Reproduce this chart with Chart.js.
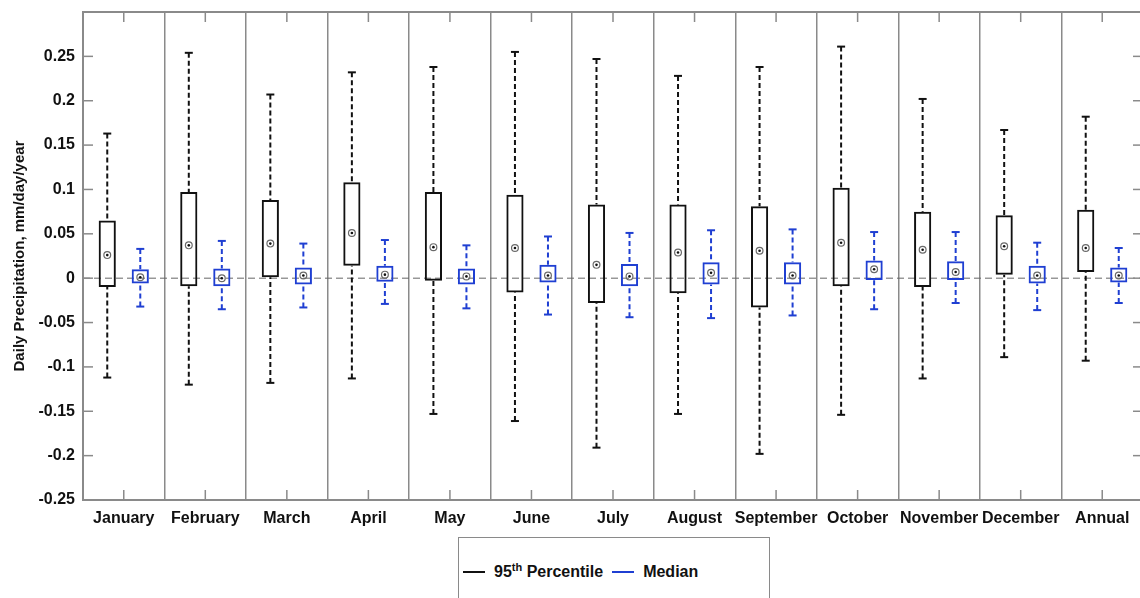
<!DOCTYPE html>
<html>
<head>
<meta charset="utf-8">
<script src="https://cdn.jsdelivr.net/npm/chart.js@4.4.1/dist/chart.umd.min.js"></script>
<style>
  html, body { margin: 0; padding: 0; background: #fff; overflow: hidden; }
  #wrap { position: relative; width: 1144px; height: 598px; }
  #legend {
    position: absolute; left: 458px; top: 537px; width: 312px; height: 80px;
    box-sizing: border-box; border: 1px solid #8a8a8a; background: #fff;
    font: bold 16px "Liberation Sans", Arial, sans-serif; color: #111;
    display: flex; align-items: flex-start; padding: 25px 0 0 4px;
  }
  .item { display: flex; align-items: center; margin-right: 9px; }
  .swatch { width: 22px; height: 2px; margin-right: 9px; }
  sup { font-size: 11px; line-height: 0; }
</style>
</head>
<body>
<div id="wrap">
  <canvas id="chart" width="1144" height="598"></canvas>
  <div id="legend"></div>
</div>
<script>
const months = ['January', 'February', 'March', 'April', 'May', 'June', 'July',
  'August', 'September', 'October', 'November', 'December', 'Annual'];

// 95th percentile trends
const p95High = [0.163, 0.254, 0.207, 0.232, 0.238, 0.255, 0.247, 0.228, 0.238, 0.261, 0.202, 0.167, 0.182];
const p95Q3   = [0.065, 0.097, 0.088, 0.108, 0.097, 0.094, 0.083, 0.083, 0.081, 0.102, 0.075, 0.071, 0.077];
const p95Med  = [0.026, 0.037, 0.039, 0.051, 0.035, 0.034, 0.015, 0.029, 0.031, 0.040, 0.032, 0.036, 0.034];
const p95Q1   = [-0.010, -0.009, 0.001, 0.014, -0.003, -0.016, -0.028, -0.017, -0.033, -0.009, -0.010, 0.004, 0.007];
const p95Low  = [-0.112, -0.120, -0.118, -0.113, -0.153, -0.161, -0.191, -0.153, -0.198, -0.154, -0.113, -0.089, -0.093];

// median trends
const medHigh = [0.033, 0.042, 0.039, 0.043, 0.037, 0.047, 0.051, 0.054, 0.055, 0.052, 0.052, 0.040, 0.034];
const medQ3   = [0.010, 0.011, 0.012, 0.014, 0.011, 0.015, 0.016, 0.018, 0.018, 0.020, 0.019, 0.014, 0.012];
const medMed  = [0.001, 0.000, 0.003, 0.004, 0.002, 0.003, 0.002, 0.006, 0.003, 0.010, 0.007, 0.003, 0.003];
const medQ1   = [-0.006, -0.009, -0.007, -0.004, -0.007, -0.005, -0.009, -0.007, -0.007, -0.002, -0.002, -0.006, -0.005];
const medLow  = [-0.032, -0.035, -0.033, -0.029, -0.034, -0.041, -0.044, -0.045, -0.042, -0.035, -0.028, -0.036, -0.028];

const yTicks = [-0.25, -0.2, -0.15, -0.1, -0.05, 0, 0.05, 0.1, 0.15, 0.2, 0.25];

const BLACK = '#111111';
const BLUE = '#1f3fd2';
const FRAME = '#8a8a8a';
const FONT = { family: '"Liberation Sans", Arial, sans-serif', size: 16, weight: 'bold' };

const series = [
  { label: '95th Percentile', html: '95<sup>th</sup> Percentile', color: BLACK,
    low: p95Low, q1: p95Q1, med: p95Med, q3: p95Q3, high: p95High },
  { label: 'Median', html: 'Median', color: BLUE,
    low: medLow, q1: medQ1, med: medMed, q3: medQ3, high: medHigh },
];

function seg(ctx, x1, y1, x2, y2) {
  ctx.beginPath(); ctx.moveTo(x1, y1); ctx.lineTo(x2, y2); ctx.stroke();
}

const boxExtras = {
  id: 'boxExtras',
  beforeDatasetsDraw(chart) {
    const { ctx, chartArea: a, scales: { y } } = chart;
    ctx.save();
    const y0 = y.getPixelForValue(0);
    ctx.strokeStyle = '#666'; ctx.lineWidth = 1; ctx.setLineDash([7, 4]);
    seg(ctx, a.left, y0, a.right, y0);

    series.forEach((s, i) => {
      chart.getDatasetMeta(i).data.forEach((bar, j) => {
        const cx = bar.x;
        ctx.strokeStyle = s.color; ctx.lineWidth = 2;
        ctx.setLineDash([5, 3]);
        seg(ctx, cx, y.getPixelForValue(s.high[j]), cx, y.getPixelForValue(s.q3[j]));
        seg(ctx, cx, y.getPixelForValue(s.low[j]), cx, y.getPixelForValue(s.q1[j]));
        ctx.setLineDash([]);
        seg(ctx, cx - 4, y.getPixelForValue(s.high[j]), cx + 4, y.getPixelForValue(s.high[j]));
        seg(ctx, cx - 4, y.getPixelForValue(s.low[j]), cx + 4, y.getPixelForValue(s.low[j]));
      });
    });
    ctx.restore();
  },
  afterDatasetsDraw(chart) {
    const { ctx, scales: { y } } = chart;
    ctx.save();
    series.forEach((s, i) => {
      chart.getDatasetMeta(i).data.forEach((bar, j) => {
        const py = y.getPixelForValue(s.med[j]);
        ctx.strokeStyle = '#6a6a6a'; ctx.lineWidth = 1.2;
        ctx.beginPath(); ctx.arc(bar.x, py, 3.4, 0, Math.PI * 2); ctx.stroke();
        ctx.fillStyle = '#111';
        ctx.beginPath(); ctx.arc(bar.x, py, 1.3, 0, Math.PI * 2); ctx.fill();
      });
    });
    ctx.restore();
  },
  afterDraw(chart) {
    const { ctx, chartArea: a, scales: { x, y } } = chart;
    ctx.save();
    ctx.strokeStyle = FRAME; ctx.lineWidth = 2;
    ctx.strokeRect(a.left, a.top, a.right - a.left, a.bottom - a.top);
    ctx.lineWidth = 1.5;
    months.forEach((m, i) => {
      const px = x.getPixelForValue(i);
      seg(ctx, px, a.bottom, px, a.bottom - 10);
      seg(ctx, px, a.top, px, a.top + 10);
    });
    yTicks.forEach(v => {
      const py = y.getPixelForValue(v);
      seg(ctx, a.left, py, a.left + 10, py);
      seg(ctx, a.right, py, a.right - 10, py);
    });
    ctx.restore();
  },
};

const chart = new Chart(document.getElementById('chart'), {
  type: 'bar',
  data: {
    labels: months,
    datasets: series.map(s => ({
      label: s.label,
      data: s.q1.map((v, i) => [v, s.q3[i]]),
      backgroundColor: 'rgba(0,0,0,0)',
      borderColor: s.color,
      borderWidth: 2,
      borderSkipped: false,
      categoryPercentage: 0.81,
      barPercentage: 0.52,
    })),
  },
  options: {
    responsive: false,
    animation: false,
    layout: { padding: { top: 12, right: 1, left: 0, bottom: 0 } },
    plugins: { legend: { display: false }, tooltip: { enabled: false } },
    scales: {
      x: {
        grid: { color: FRAME, lineWidth: 1.5, drawTicks: false },
        border: { display: false },
        ticks: { font: FONT, color: BLACK, padding: 9, maxRotation: 0, autoSkip: false },
        afterFit: s => { s.height = 98; s.paddingLeft = 0; s.paddingRight = 0; },
      },
      y: {
        min: -0.25, max: 0.3,
        grid: { display: false, drawTicks: false },
        border: { display: false },
        ticks: {
          stepSize: 0.05, font: FONT, color: BLACK, padding: 8,
          callback: v => (v > 0.27 ? '' : String(+v.toFixed(2))),
        },
        title: {
          display: true, text: 'Daily Precipitation, mm/day/year',
          font: { family: FONT.family, size: 15, weight: 'bold' }, color: BLACK,
          padding: { top: 11, bottom: 0 },
        },
        afterFit: s => { s.width = 83; s.paddingTop = 0; s.paddingBottom = 0; },
      },
    },
  },
  plugins: [boxExtras],
});

document.getElementById('legend').innerHTML = series.map(s =>
  `<div class="item"><span class="swatch" style="background:${s.color}"></span><span>${s.html}</span></div>`
).join('');
</script>
</body>
</html>
